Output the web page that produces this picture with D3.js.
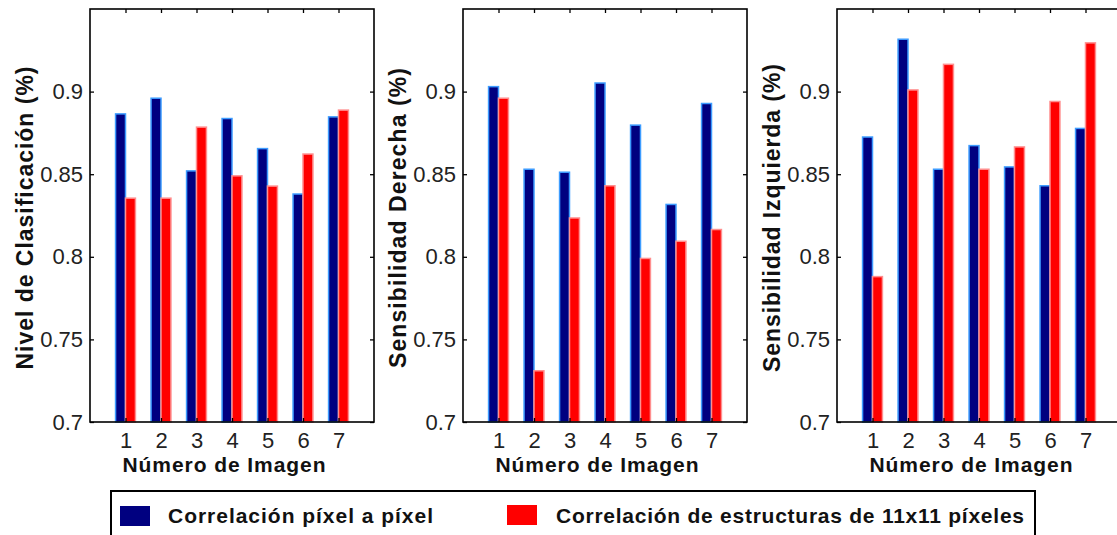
<!DOCTYPE html>
<html>
<head>
<meta charset="utf-8">
<script src="https://cdn.jsdelivr.net/npm/d3@7"></script>
<style>
  html, body { margin: 0; padding: 0; background: #fff; }
  svg { display: block; }
  text { font-family: "Liberation Sans", Arial, Helvetica, sans-serif; }
</style>
</head>
<body>
<svg id="chart" width="1117" height="535"></svg>
<script>
// ---- Data ----
const categories = [1, 2, 3, 4, 5, 6, 7];
const seriesNames = ["Correlación píxel a píxel", "Correlación de estructuras de 11x11 píxeles"];
const seriesColors = ["#000080", "#ff0000"];
const seriesEdges = ["#3d9cff", "#ff8f8f"];

const clasificacionPixel       = [0.8865, 0.896, 0.852, 0.8837, 0.8655, 0.838, 0.8847];
const clasificacionEstructuras = [0.8355, 0.8355, 0.8785, 0.849, 0.8428, 0.8622, 0.8888];

const derechaPixel       = [0.903, 0.853, 0.8512, 0.9052, 0.8797, 0.8317, 0.8928];
const derechaEstructuras = [0.896, 0.731, 0.8235, 0.843, 0.799, 0.8094, 0.8165];

const izquierdaPixel       = [0.8725, 0.9317, 0.853, 0.8673, 0.8544, 0.843, 0.8777];
const izquierdaEstructuras = [0.788, 0.901, 0.9165, 0.853, 0.8665, 0.894, 0.9295];

const yTicks = [0.7, 0.75, 0.8, 0.85, 0.9];
const yTickLabels = ["0.7", "0.75", "0.8", "0.85", "0.9"];
const yDomain = [0.7, 0.95];
const xDomain = [0, 8];
const yTitles = ["Nivel de Clasificación (%)", "Sensibilidad Derecha (%)", "Sensibilidad Izquierda (%)"];
const xTitle = "Número de Imagen";

const panels = [
  { title: yTitles[0], series: [clasificacionPixel, clasificacionEstructuras] },
  { title: yTitles[1], series: [derechaPixel, derechaEstructuras] },
  { title: yTitles[2], series: [izquierdaPixel, izquierdaEstructuras] }
];

// ---- Layout ----
const panelLefts = [90, 463, 837];
const panelW = 284;
const plotTop = 9, plotBottom = 422;
const yTitleLengths = [303, 300, 308];
const barW = 0.28;

const svg = d3.select("#chart");

panels.forEach((p, pi) => {
  const left = panelLefts[pi];
  const x = d3.scaleLinear().domain(xDomain).range([left, left + panelW]);
  const y = d3.scaleLinear().domain(yDomain).range([plotBottom, plotTop]);
  const g = svg.append("g");

  // bars
  p.series.forEach((vals, si) => {
    g.selectAll(null)
      .data(vals)
      .enter()
      .append("rect")
      .attr("x", (d, i) => x(categories[i] + (si === 0 ? -barW : 0)))
      .attr("width", x(barW) - x(0))
      .attr("y", d => y(d))
      .attr("height", d => y(yDomain[0]) - y(d))
      .attr("fill", seriesColors[si])
      .attr("stroke", seriesEdges[si])
      .attr("stroke-width", 1.5);
  });

  // axes
  const axL = d3.axisLeft(y).tickValues(yTicks)
    .tickFormat((d, i) => yTickLabels[i]).tickSizeInner(-4).tickSizeOuter(0).tickPadding(7);
  const axR = d3.axisRight(y).tickValues(yTicks).tickFormat("").tickSizeInner(-4).tickSizeOuter(0);
  const axT = d3.axisTop(x).tickValues(categories).tickFormat("").tickSizeInner(-4).tickSizeOuter(0);
  const axB = d3.axisBottom(x).tickValues(categories).tickFormat(d3.format("d"))
    .tickSizeInner(-4).tickSizeOuter(0).tickPadding(10);

  const gl = g.append("g").attr("transform", `translate(${left},0)`).call(axL);
  const gr = g.append("g").attr("transform", `translate(${left + panelW},0)`).call(axR);
  const gt = g.append("g").attr("transform", `translate(0,${plotTop})`).call(axT);
  const gb = g.append("g").attr("transform", `translate(0,${plotBottom})`).call(axB);
  [gl, gr, gt, gb].forEach(a => {
    a.select(".domain").remove();
    a.selectAll(".tick line").attr("stroke", "#000").attr("stroke-width", 1.3);
    a.selectAll(".tick text").attr("font-size", 22).attr("fill", "#222")
      .attr("font-family", "'Liberation Sans', Arial, sans-serif");
  });

  // box
  g.append("rect")
    .attr("x", left).attr("y", plotTop)
    .attr("width", panelW).attr("height", plotBottom - plotTop)
    .attr("fill", "none").attr("stroke", "#000").attr("stroke-width", 1.6);

  // x title
  g.append("text")
    .attr("x", left + panelW / 2 - 8)
    .attr("y", 472)
    .attr("text-anchor", "middle")
    .attr("font-size", 21)
    .attr("font-weight", "bold")
    .attr("fill", "#111")
    .attr("textLength", 203)
    .attr("lengthAdjust", "spacing")
    .text(xTitle);

  // y title
  const cx = left - 65, cy = 218;
  g.append("text")
    .attr("transform", `translate(${cx + 8},${cy}) rotate(-90)`)
    .attr("text-anchor", "middle")
    .attr("font-size", 23)
    .attr("font-weight", "bold")
    .attr("fill", "#111")
    .attr("textLength", yTitleLengths[pi])
    .attr("lengthAdjust", "spacing")
    .text(p.title);
});

// ---- Legend ----
const lg = svg.append("g");
lg.append("rect")
  .attr("x", 111).attr("y", 491)
  .attr("width", 924).attr("height", 70)
  .attr("fill", "#fff").attr("stroke", "#000").attr("stroke-width", 2);

const legendItems = [
  { sx: 120, sy: 506, tx: 168, len: 265 },
  { sx: 507, sy: 505, tx: 556, len: 468 }
];
seriesNames.forEach((name, i) => {
  const it = legendItems[i];
  lg.append("rect")
    .attr("x", it.sx).attr("y", it.sy)
    .attr("width", 30).attr("height", 20)
    .attr("fill", seriesColors[i]);
  lg.append("text")
    .attr("x", it.tx).attr("y", 523)
    .attr("font-size", 21)
    .attr("font-weight", "bold")
    .attr("fill", "#111")
    .attr("textLength", it.len)
    .attr("lengthAdjust", "spacing")
    .text(name);
});
</script>
</body>
</html>
